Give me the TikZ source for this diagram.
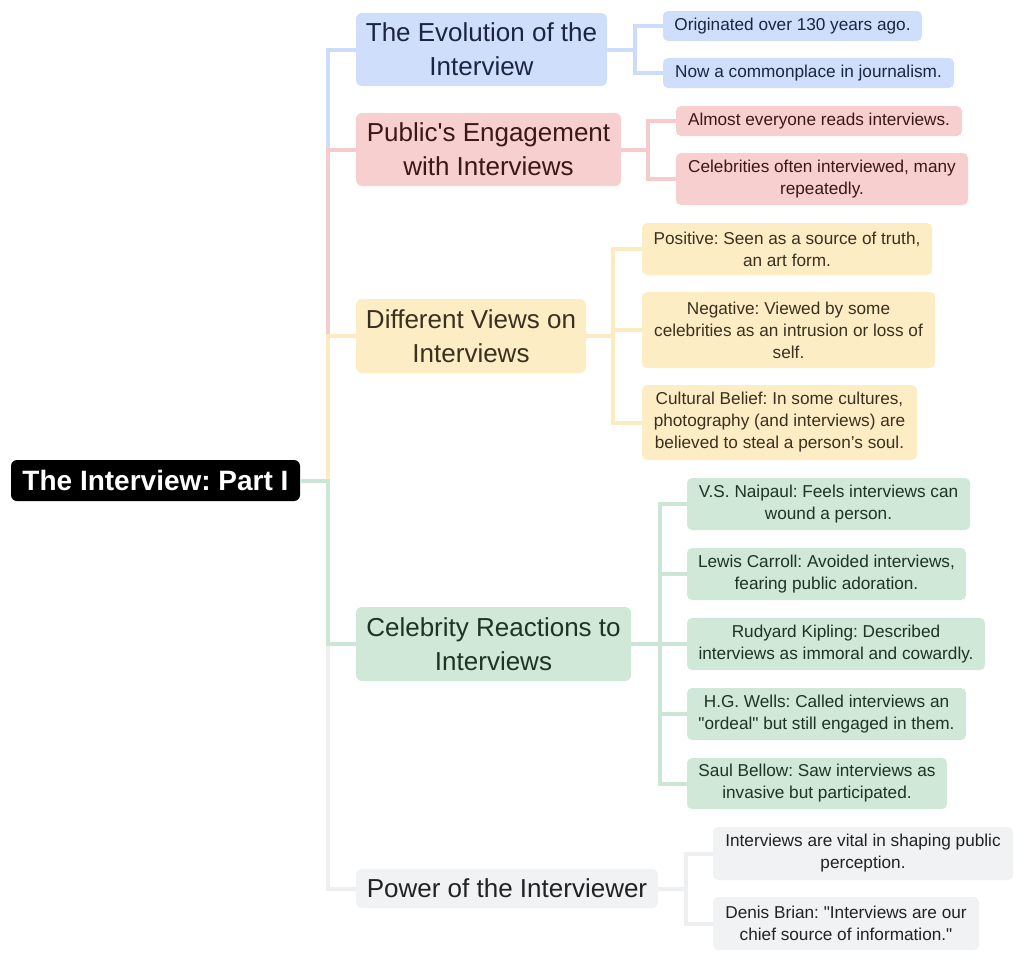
\documentclass[tikz,border=0pt]{standalone}
\usepackage{fontspec}
\setmainfont{Liberation Sans}[Ligatures=TeXOff]
\frenchspacing
\definecolor{bfill}{HTML}{CFDFFB}
\definecolor{bline}{HTML}{CCDCFA}
\definecolor{btext}{HTML}{1B2540}
\definecolor{rfill}{HTML}{F8CFCF}
\definecolor{rline}{HTML}{F7CBCB}
\definecolor{rtext}{HTML}{3A1818}
\definecolor{yfill}{HTML}{FDEDC5}
\definecolor{yline}{HTML}{FCEAC0}
\definecolor{ytext}{HTML}{3A3020}
\definecolor{gfill}{HTML}{CFE8D7}
\definecolor{gline}{HTML}{CBE6D4}
\definecolor{gtext}{HTML}{1E3326}
\definecolor{kfill}{HTML}{F1F2F4}
\definecolor{kline}{HTML}{EEEFF1}
\definecolor{ktext}{HTML}{222222}
\tikzset{
  x=1pt, y=-1pt,
  box/.style={rounded corners=6pt, inner sep=0pt, align=center, anchor=center},
  rootbox/.style={box, fill=black, text=white, font=\fontsize{28}{34}\selectfont\bfseries},
  lone/.style={box, font=\fontsize{26}{34}\selectfont},
  ltwo/.style={box, rounded corners=5pt, font=\fontsize{17.2}{22}\selectfont},
  conn/.style={line width=4pt},
}
\newcommand{\bx}[8]{\node[#1, fill=#2, text=#3, minimum width=#6pt, minimum height=#7pt] (#4) at #5 {#8};}
\begin{document}
\begin{tikzpicture}
\useasboundingbox (0,0) rectangle (1024,961);
% nodes
\node[rootbox, minimum width=289pt, minimum height=41pt] (root) at (155.5,480.5) {The Interview: Part I};
\bx{lone}{bfill}{btext}{evo}{(481.5,49.5)}{251}{73}{The Evolution of the\\Interview}
\bx{lone}{rfill}{rtext}{pub}{(488.5,149.5)}{265}{73}{Public's Engagement\\with Interviews}
\bx{lone}{yfill}{ytext}{dif}{(471,336)}{230}{74}{Different Views on\\Interviews}
\bx{lone}{gfill}{gtext}{cel}{(493.5,644)}{275}{74}{Celebrity Reactions to\\Interviews}
\bx{lone}{kfill}{ktext}{pow}{(507,888.5)}{302}{39}{Power of the Interviewer}
% level 2
\bx{ltwo}{bfill}{btext}{orig}{(792.5,26)}{259}{30}{Originated over 130 years ago.}
\bx{ltwo}{bfill}{btext}{now}{(808.5,73)}{291}{30}{Now a commonplace in journalism.}
\bx{ltwo}{rfill}{rtext}{alm}{(819,121)}{286}{30}{Almost everyone reads interviews.}
\bx{ltwo}{rfill}{rtext}{cele}{(822,179)}{292}{52}{Celebrities often interviewed, many\\repeatedly.}
\bx{ltwo}{yfill}{ytext}{pos}{(787,249)}{290}{52}{Positive: Seen as a source of truth,\\an art form.}
\bx{ltwo}{yfill}{ytext}{neg}{(788.5,330)}{293}{76}{Negative: Viewed by some\\celebrities as an intrusion or loss of\\self.}
\bx{ltwo}{yfill}{ytext}{cul}{(779.5,422.5)}{275}{75}{Cultural Belief: In some cultures,\\photography (and interviews) are\\believed to steal a person’s soul.}
\bx{ltwo}{gfill}{gtext}{nai}{(828.5,504)}{283}{52}{V.S. Naipaul: Feels interviews can\\wound a person.}
\bx{ltwo}{gfill}{gtext}{car}{(826.5,574)}{279}{52}{Lewis Carroll: Avoided interviews,\\fearing public adoration.}
\bx{ltwo}{gfill}{gtext}{kip}{(836,644)}{298}{52}{Rudyard Kipling: Described\\interviews as immoral and cowardly.}
\bx{ltwo}{gfill}{gtext}{wel}{(826.5,714)}{279}{52}{H.G. Wells: Called interviews an\\"ordeal" but still engaged in them.}
\bx{ltwo}{gfill}{gtext}{bel}{(817,783.5)}{260}{51}{Saul Bellow: Saw interviews as\\invasive but participated.}
\bx{ltwo}{kfill}{ktext}{vit}{(863,853.5)}{300}{53}{Interviews are vital in shaping public\\perception.}
\bx{ltwo}{kfill}{ktext}{den}{(846,923.5)}{266}{53}{Denis Brian: "Interviews are our\\chief source of information."}
% connectors
\draw[conn, bline] (root.east) -- ++(28,0) |- (evo.west);
\draw[conn, rline] (root.east) -- ++(28,0) |- (pub.west);
\draw[conn, yline] (root.east) -- ++(28,0) |- (dif.west);
\draw[conn, kline] (root.east) -- ++(28,0) |- (pow.west);
\draw[conn, gline] (root.east) -- ++(28,0) |- (cel.west);
\draw[conn, bline] (evo.east) -- ++(28,0) |- (orig.west);
\draw[conn, bline] (evo.east) -- ++(28,0) |- (now.west);
\draw[conn, rline] (pub.east) -- ++(27,0) |- (alm.west);
\draw[conn, rline] (pub.east) -- ++(27,0) |- (cele.west);
\draw[conn, yline] (dif.east) -- ++(27,0) |- (pos.west);
\draw[conn, yline] (dif.east) -- ++(27,0) |- (neg.west);
\draw[conn, yline] (dif.east) -- ++(27,0) |- (cul.west);
\draw[conn, gline] (cel.east) -- ++(29,0) |- (nai.west);
\draw[conn, gline] (cel.east) -- ++(29,0) |- (car.west);
\draw[conn, gline] (cel.east) -- ++(29,0) |- (kip.west);
\draw[conn, gline] (cel.east) -- ++(29,0) |- (wel.west);
\draw[conn, gline] (cel.east) -- ++(29,0) |- (bel.west);
\draw[conn, kline] (pow.east) -- ++(28,0) |- (vit.west);
\draw[conn, kline] (pow.east) -- ++(28,0) |- (den.west);
\end{tikzpicture}
\end{document}
